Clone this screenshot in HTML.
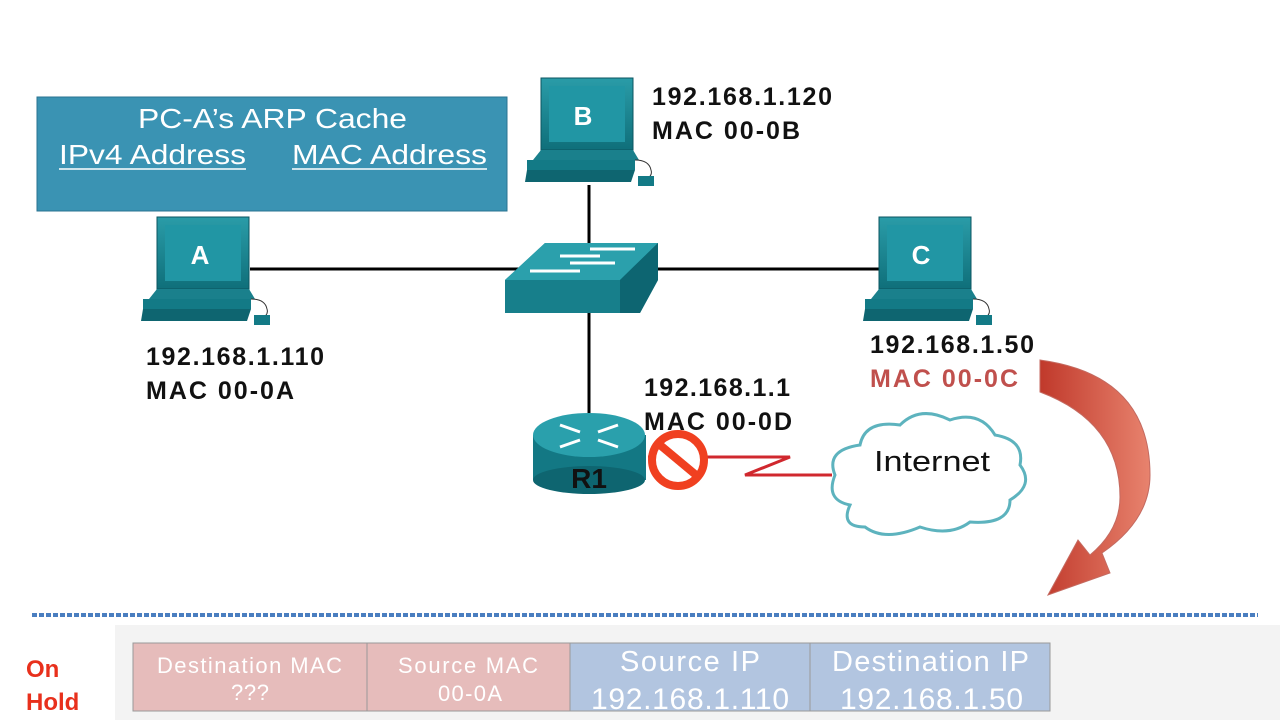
<!DOCTYPE html>
<html><head><style>
body{margin:0;width:1280px;height:720px;overflow:hidden;background:#fff;font-family:"Liberation Sans",sans-serif}
</style></head><body>
<svg width="1280" height="720" viewBox="0 0 1280 720" xmlns="http://www.w3.org/2000/svg" font-family="Liberation Sans, sans-serif">
<defs>
<linearGradient id="tl" x1="0" y1="0" x2="0" y2="1"><stop offset="0" stop-color="#2a9ca8"/><stop offset="1" stop-color="#0f6f7a"/></linearGradient>
<linearGradient id="arr" x1="0" y1="0" x2="1" y2="0"><stop offset="0" stop-color="#c0392b"/><stop offset="1" stop-color="#e8836e"/></linearGradient>
<g id="pc">
<rect x="0" y="0" width="92" height="72" fill="url(#tl)" stroke="#0b5560"/>
<rect x="8" y="8" width="76" height="56" fill="#2196a4"/>
<polygon points="0,72 92,72 98,82 -8,82" fill="#1a808c"/>
<rect x="-14" y="82" width="108" height="10" fill="#137a86"/>
<polygon points="-14,92 94,92 90,104 -16,104" fill="#0e6570"/>
<path d="M94 82 q14 0 16 10 q2 6 -6 10" fill="none" stroke="#333" stroke-width="1"/>
<rect x="97" y="98" width="16" height="10" fill="#137a86"/>
</g>
</defs>
<g stroke="#000" stroke-width="3">
<line x1="250" y1="269" x2="520" y2="269"/>
<line x1="650" y1="269" x2="885" y2="269"/>
<line x1="589" y1="185" x2="589" y2="245"/>
<line x1="589" y1="310" x2="589" y2="415"/>
</g>
<rect x="37" y="97" width="470" height="114" fill="#3a93b3" stroke="#2a7390"/>
<text x="138" y="128" font-size="28" fill="#fff" textLength="269" lengthAdjust="spacingAndGlyphs">PC-A’s ARP Cache</text>
<text x="59" y="164" font-size="28" fill="#fff" textLength="187" lengthAdjust="spacingAndGlyphs">IPv4 Address</text>
<text x="292" y="164" font-size="28" fill="#fff" textLength="195" lengthAdjust="spacingAndGlyphs">MAC Address</text>
<line x1="59" y1="169" x2="246" y2="169" stroke="#fff" stroke-width="1.5"/>
<line x1="292" y1="169" x2="487" y2="169" stroke="#fff" stroke-width="1.5"/>
<use href="#pc" x="157" y="217"/>
<text x="200" y="264" text-anchor="middle" font-size="26" font-weight="bold" fill="#fff">A</text>
<use href="#pc" x="541" y="78"/>
<text x="583" y="125" text-anchor="middle" font-size="26" font-weight="bold" fill="#fff">B</text>
<use href="#pc" x="879" y="217"/>
<text x="921" y="264" text-anchor="middle" font-size="26" font-weight="bold" fill="#fff">C</text>
<polygon points="505,280 545,243 658,243 658,280 640,313 505,313" fill="#177f8b"/>
<polygon points="505,280 545,243 658,243 620,280" fill="#2ba0ac"/>
<polygon points="620,280 658,243 658,280 640,313 620,313" fill="#0d6571"/>
<g stroke="#fff" stroke-width="3"><line x1="560" y1="256" x2="600" y2="256"/><line x1="590" y1="249" x2="635" y2="249"/><line x1="570" y1="263" x2="615" y2="263"/><line x1="530" y1="271" x2="580" y2="271"/></g>
<rect x="533" y="435" width="113" height="45" fill="#137884"/>
<ellipse cx="589" cy="480" rx="56" ry="14" fill="#0e6570"/>
<ellipse cx="589" cy="435" rx="56" ry="22" fill="#2aa0ac"/>
<g stroke="#fff" stroke-width="3"><line x1="560" y1="425" x2="580" y2="432"/><line x1="618" y1="425" x2="598" y2="432"/><line x1="560" y1="447" x2="580" y2="440"/><line x1="618" y1="447" x2="598" y2="440"/></g>
<text x="589" y="488" text-anchor="middle" font-size="28" font-weight="bold" fill="#111">R1</text>
<polyline points="648,457 790,457 745,475 832,475" fill="none" stroke="#d0282e" stroke-width="3"/>
<circle cx="678" cy="460" r="26" fill="#fff" stroke="#f04020" stroke-width="8"/>
<line x1="660" y1="445" x2="696" y2="475" stroke="#f04020" stroke-width="8"/>
<path d="M850 505 q-25 -5 -15 -30 q-10 -25 25 -30 q5 -25 40 -20 q20 -20 50 -5 q30 -10 45 15 q30 5 25 30 q15 20 -10 35 q0 25 -40 22 q-20 15 -50 5 q-35 15 -55 0 q-25 0 -15 -22 z" fill="#fff" stroke="#5db3be" stroke-width="3"/>
<text x="874" y="471" font-size="29" fill="#111" textLength="116" lengthAdjust="spacingAndGlyphs">Internet</text>
<g font-size="25" font-weight="bold" fill="#111" lengthAdjust="spacingAndGlyphs">
<text x="652" y="105" textLength="180">192.168.1.120</text><text x="652" y="139" textLength="148">MAC 00-0B</text>
<text x="146" y="365" textLength="178">192.168.1.110</text><text x="146" y="399" textLength="148">MAC 00-0A</text>
<text x="870" y="353" textLength="164">192.168.1.50</text><text x="870" y="387" fill="#c0504d" textLength="148">MAC 00-0C</text>
<text x="644" y="396" textLength="146">192.168.1.1</text><text x="644" y="430" textLength="148">MAC 00-0D</text>
</g>
<path d="M1040 360 q110 15 110 115 q0 45 -48 78 l8 20 l-62 22 l30 -55 l12 15 q30 -25 30 -58 q0 -75 -80 -105 z" fill="url(#arr)" stroke="#c46a60" stroke-width="1"/>
<line x1="32" y1="615" x2="1258" y2="615" stroke="#4a7ec0" stroke-width="4" stroke-dasharray="5 2"/>
<rect x="115" y="625" width="1165" height="95" fill="#f3f3f3"/>
<text x="26" y="677" font-size="24" font-weight="bold" fill="#e8301c">On</text>
<text x="26" y="710" font-size="24" font-weight="bold" fill="#e8301c">Hold</text>
<rect x="133" y="643" width="234" height="68" fill="#e6bcbb" stroke="#999"/>
<rect x="367" y="643" width="203" height="68" fill="#e6bcbb" stroke="#999"/>
<rect x="570" y="643" width="240" height="68" fill="#b2c5e0" stroke="#999"/>
<rect x="810" y="643" width="240" height="68" fill="#b2c5e0" stroke="#999"/>
<g fill="#fff" lengthAdjust="spacingAndGlyphs">
<text x="157" y="673" font-size="22" textLength="185">Destination MAC</text><text x="231" y="700" font-size="22" textLength="38">???</text>
<text x="398" y="673" font-size="22" textLength="140">Source MAC</text><text x="438" y="701" font-size="22" textLength="64">00-0A</text>
<text x="620" y="671" font-size="29" textLength="140">Source IP</text><text x="591" y="709" font-size="30" textLength="198">192.168.1.110</text>
<text x="832" y="671" font-size="29" textLength="197">Destination IP</text><text x="840" y="709" font-size="30" textLength="183">192.168.1.50</text>
</g>
</svg>
</body></html>
